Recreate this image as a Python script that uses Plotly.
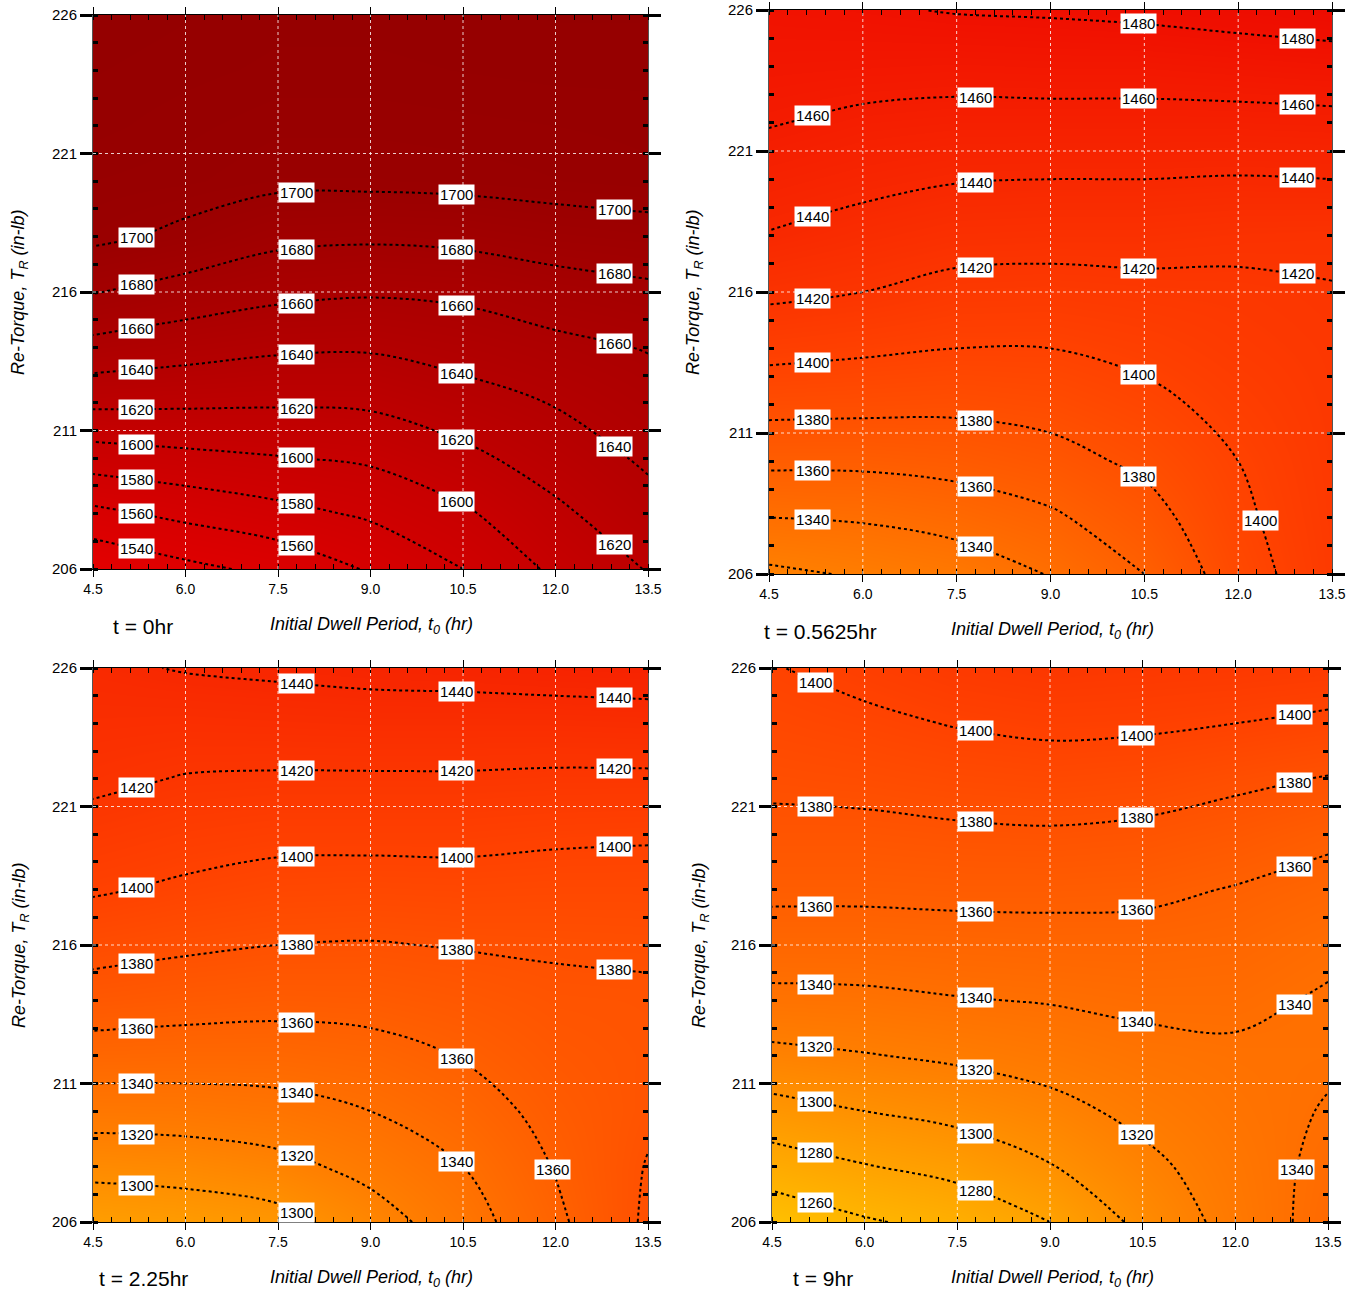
import numpy as np
import plotly.graph_objects as go

# ---------------- data ----------------
x_vals = [4.5, 6.0, 7.5, 9.0, 10.5, 12.0, 13.5]          # initial dwell period t0 (hr)
y_vals = [206, 208, 210, 212, 214, 216, 218, 220, 222, 224, 226]  # re-torque (in-lb)
x_ticks = [4.5, 6.0, 7.5, 9.0, 10.5, 12.0, 13.5]
y_ticks = [206, 211, 216, 221, 226]
time_labels = ["t = 0hr", "t = 0.5625hr", "t = 2.25hr", "t = 9hr"]

# rows = y (206 -> 226), columns = x (4.5 -> 13.5)
z_t0 = [
    [1522, 1535, 1545, 1562, 1580, 1604, 1621],
    [1555, 1565, 1574, 1583, 1597, 1616, 1633],
    [1590, 1595, 1599, 1603, 1615, 1629, 1643],
    [1624, 1623, 1622, 1623, 1632, 1641, 1652],
    [1654, 1648, 1643, 1642, 1648, 1655, 1661],
    [1681, 1672, 1665, 1662, 1664, 1671, 1676],
    [1704, 1696, 1685, 1683, 1685, 1690, 1693],
    [1710, 1708, 1704, 1704, 1705, 1707, 1709],
    [1714, 1711, 1708, 1708, 1709, 1710, 1711],
    [1716, 1714, 1712, 1712, 1713, 1714, 1714],
    [1718, 1716, 1714, 1714, 1715, 1716, 1716],
]
z_t05625 = [
    [1316, 1322, 1328, 1341, 1360, 1391, 1413],
    [1340, 1342, 1348, 1357, 1372, 1396, 1414],
    [1364, 1364, 1367, 1373, 1384, 1400, 1415],
    [1386, 1385, 1384, 1387, 1395, 1406, 1416],
    [1406, 1403, 1400, 1400, 1405, 1412, 1417],
    [1424, 1420, 1414, 1413, 1415, 1416, 1419],
    [1439, 1433, 1428, 1427, 1427, 1425, 1424],
    [1450, 1445, 1441, 1440, 1440, 1439, 1440],
    [1461, 1456, 1454, 1454, 1454, 1454, 1455],
    [1469, 1468, 1467, 1468, 1468, 1470, 1472],
    [1476, 1478, 1481, 1482, 1484, 1487, 1490],
]
z_t225 = [
    [1285, 1288, 1293, 1311, 1331, 1356, 1383],
    [1306, 1308, 1314, 1326, 1340, 1361, 1381],
    [1329, 1330, 1333, 1340, 1351, 1366, 1377],
    [1351, 1350, 1350, 1353, 1361, 1371, 1376],
    [1371, 1368, 1366, 1367, 1371, 1376, 1377],
    [1387, 1383, 1380, 1379, 1381, 1382, 1383],
    [1402, 1397, 1393, 1392, 1393, 1392, 1392],
    [1413, 1408, 1405, 1405, 1405, 1403, 1402],
    [1424, 1419, 1418, 1418, 1418, 1417, 1417],
    [1431, 1430, 1431, 1432, 1432, 1432, 1433],
    [1437, 1441, 1443, 1445, 1446, 1448, 1449],
]
z_t9 = [
    [1247, 1258, 1266, 1280, 1305, 1327, 1348],
    [1270, 1279, 1286, 1299, 1315, 1330, 1345],
    [1293, 1300, 1306, 1314, 1325, 1334, 1341],
    [1315, 1319, 1323, 1328, 1334, 1337, 1338],
    [1335, 1336, 1339, 1341, 1344, 1344, 1338],
    [1351, 1351, 1352, 1353, 1353, 1351, 1344],
    [1364, 1364, 1365, 1365, 1364, 1359, 1353],
    [1375, 1375, 1377, 1378, 1376, 1371, 1364],
    [1384, 1386, 1389, 1391, 1389, 1384, 1379],
    [1392, 1396, 1401, 1404, 1403, 1400, 1396],
    [1399, 1406, 1413, 1417, 1415, 1414, 1412],
]
panels = [z_t0, z_t05625, z_t225, z_t9]

# ---------------- style ----------------
FONT = "Liberation Sans, Arial, sans-serif"
W, H = 1356, 1291
ZMIN, ZMAX = 1240, 1760
cs_vals = [1240, 1280, 1320, 1360, 1400, 1440, 1480, 1520, 1560, 1600, 1640, 1680, 1700, 1720, 1760]
cs_cols = ["rgb(255,198,0)", "rgb(255,162,0)", "rgb(255,126,0)", "rgb(255,96,0)",
           "rgb(255,66,0)", "rgb(248,40,0)", "rgb(240,16,0)", "rgb(228,0,0)",
           "rgb(215,0,0)", "rgb(200,0,0)", "rgb(180,0,0)", "rgb(163,0,0)",
           "rgb(155,0,0)", "rgb(148,0,0)", "rgb(142,0,0)"]
colorscale = [[(v - ZMIN) / (ZMAX - ZMIN), c] for v, c in zip(cs_vals, cs_cols)]

LEVEL_START, LEVEL_END, LEVEL_STEP = 1200, 1800, 20
label_cols = [5.2, 7.8, 10.4, 12.95]
label_row = 207.9   # extra labels for steep (near-vertical) contour segments

# pixel boxes of the four plot areas (left, right, top, bottom)
boxes = [(93, 648, 15, 569), (769, 1332, 10, 574), (93, 648, 668, 1222), (772, 1328, 668, 1222)]
# text positions in px: y-title x, x-title (x,y), time label (x,y)
ytitle_x = [20, 695, 20, 700]
xtitle_pos = [(371, 625), (1052, 630), (371, 1278), (1052, 1278)]
tlabel_pos = [(143, 626), (820, 631), (143, 1278), (823, 1278)]


def px2paper(px, py):
    return px / W, 1 - py / H


def interp2(Z, xq, yq):
    col = np.array([np.interp(xq, x_vals, row) for row in Z])
    return np.interp(yq, y_vals, col)


def col_crossings(Z, xc, level):
    col = np.array([np.interp(xc, x_vals, row) for row in Z])
    ys = []
    for i in range(len(y_vals) - 1):
        a, b = col[i], col[i + 1]
        if (a - level) * (b - level) < 0:
            t = (level - a) / (b - a)
            ys.append(y_vals[i] + t * (y_vals[i + 1] - y_vals[i]))
    return ys


def row_crossings(Z, yr, level):
    row = np.array([np.interp(yr, y_vals, Z[:, j]) for j in range(len(x_vals))])
    xs = []
    for j in range(len(x_vals) - 1):
        a, b = row[j], row[j + 1]
        if (a - level) * (b - level) < 0:
            t = (level - a) / (b - a)
            xs.append(x_vals[j] + t * (x_vals[j + 1] - x_vals[j]))
    return xs


def is_steep(Z, xq, yq, pxx, pxy):
    h = 0.05
    gx = (interp2(Z, xq + h, yq) - interp2(Z, xq - h, yq)) / (2 * h) / pxx
    gy = (interp2(Z, xq, yq + h) - interp2(Z, xq, yq - h)) / (2 * h) / pxy
    return abs(gx) > abs(gy)


fig = go.Figure()
annotations = []
shapes = []
layout = {}

for k, z in enumerate(panels):
    n = "" if k == 0 else str(k + 1)
    xa, ya = "x" + n, "y" + n
    Z = np.array(z, dtype=float)
    fig.add_trace(go.Heatmap(x=x_vals, y=y_vals, z=z, zsmooth="best",
                             colorscale=colorscale, zmin=ZMIN, zmax=ZMAX,
                             showscale=False, hoverinfo="skip", xaxis=xa, yaxis=ya))
    fig.add_trace(go.Contour(x=x_vals, y=y_vals, z=z, showscale=False, hoverinfo="skip",
                             autocontour=False,
                             contours=dict(coloring="none", start=LEVEL_START, end=LEVEL_END,
                                           size=LEVEL_STEP, showlabels=False),
                             line=dict(color="black", width=2, dash="dot", smoothing=1),
                             xaxis=xa, yaxis=ya))
    l, r, t, b = boxes[k]
    x0p, _ = px2paper(l, 0)
    x1p, _ = px2paper(r, 0)
    _, y0p = px2paper(0, b)
    _, y1p = px2paper(0, t)
    pxx = (r - l) / (x_ticks[-1] - x_ticks[0])     # pixels per x unit
    pxy = (b - t) / (y_ticks[-1] - y_ticks[0])     # pixels per y unit
    layout["xaxis" + n] = dict(
        domain=[x0p, x1p], anchor=ya, range=[x_ticks[0], x_ticks[-1]], automargin=False,
        tickvals=x_ticks, ticktext=[f"{v:.1f}" for v in x_ticks],
        ticks="outside", ticklen=7, tickwidth=1, tickcolor="black",
        minor=dict(ticks="inside", dtick=0.3, tick0=4.5, ticklen=5, tickcolor="black", showgrid=False),
        showline=True, linecolor="black", linewidth=1, mirror="ticks",
        showgrid=False, zeroline=False,
        tickfont=dict(family=FONT, size=14, color="black"))
    layout["yaxis" + n] = dict(
        domain=[y0p, y1p], anchor=xa, range=[y_ticks[0], y_ticks[-1]], automargin=False,
        tickvals=y_ticks, ticks="outside", ticklen=12, tickwidth=3, tickcolor="black",
        minor=dict(ticks="inside", dtick=1, tick0=206, ticklen=5, tickcolor="black", showgrid=False),
        showline=True, linecolor="#555", linewidth=1, mirror="ticks",
        showgrid=False, zeroline=False,
        tickfont=dict(family=FONT, size=15, color="black"))

    # dotted white grid lines above the colour field
    for gx in x_ticks[1:-1]:
        shapes.append(dict(type="line", xref=xa, yref=ya + " domain", x0=gx, x1=gx, y0=0, y1=1,
                           line=dict(color="rgba(255,255,255,0.8)", width=1, dash="dot"), layer="above"))
    for gy in y_ticks[1:-1]:
        shapes.append(dict(type="line", xref=xa + " domain", yref=ya, x0=0, x1=1, y0=gy, y1=gy,
                           line=dict(color="rgba(255,255,255,0.8)", width=1, dash="dot"), layer="above"))

    # contour labels in white boxes, placed where each level crosses label columns / row
    zmin_p, zmax_p = Z.min(), Z.max()
    levels = [lv for lv in range(LEVEL_START, LEVEL_END + 1, LEVEL_STEP) if zmin_p < lv < zmax_p]
    placed = []
    for level in levels:
        for xc in label_cols:
            for yc in col_crossings(Z, xc, level):
                if not (206.25 <= yc <= 225.75):
                    continue
                if yc < 209.5 and is_steep(Z, xc, yc, pxx, pxy):
                    continue   # handled by the row pass
                placed.append((xc, yc, level))
    for level in levels:
        for xc in row_crossings(Z, label_row, level):
            if not is_steep(Z, xc, label_row, pxx, pxy):
                continue
            if xc > x_ticks[-1] - 0.3 or xc < x_ticks[0] + 0.3:
                continue
            clash = any(abs((xc - px) * pxx) < 50 and abs((label_row - py) * pxy) < 26
                        for px, py, _ in placed)
            dup = any(lv == level and np.hypot((xc - px) * pxx, (label_row - py) * pxy) < 100
                      for px, py, lv in placed)
            if not clash and not dup:
                placed.append((xc, label_row, level))
    for xc, yc, level in placed:
        annotations.append(dict(x=xc, y=yc, xref=xa, yref=ya, text=str(level),
                                showarrow=False, bgcolor="white", borderpad=1,
                                font=dict(family=FONT, size=15, color="black")))

    # axis titles and time label
    ax, ay = px2paper(ytitle_x[k], (t + b) / 2)
    annotations.append(dict(x=ax, y=ay, xref="paper", yref="paper", textangle=-90,
                            text="<i>Re-Torque, T<sub>R</sub> (in-lb)</i>", showarrow=False,
                            xanchor="center", yanchor="middle",
                            font=dict(family=FONT, size=18, color="black")))
    ax, ay = px2paper(*xtitle_pos[k])
    annotations.append(dict(x=ax, y=ay, xref="paper", yref="paper",
                            text="<i>Initial Dwell Period, t<sub>0</sub> (hr)</i>", showarrow=False,
                            xanchor="center", yanchor="middle",
                            font=dict(family=FONT, size=18, color="black")))
    ax, ay = px2paper(*tlabel_pos[k])
    annotations.append(dict(x=ax, y=ay, xref="paper", yref="paper", text=time_labels[k],
                            showarrow=False, xanchor="center", yanchor="middle",
                            font=dict(family=FONT, size=21, color="black")))

fig.update_layout(**layout)
fig.update_layout(width=W, height=H, margin=dict(l=0, r=0, t=0, b=0, autoexpand=False),
                  paper_bgcolor="white", plot_bgcolor="white", showlegend=False,
                  annotations=annotations, shapes=shapes,
                  font=dict(family=FONT, color="black"))
fig.write_html("out.html", config={"displayModeBar": False},
               post_script="document.body.style.margin='0';document.body.style.overflow='hidden';")
